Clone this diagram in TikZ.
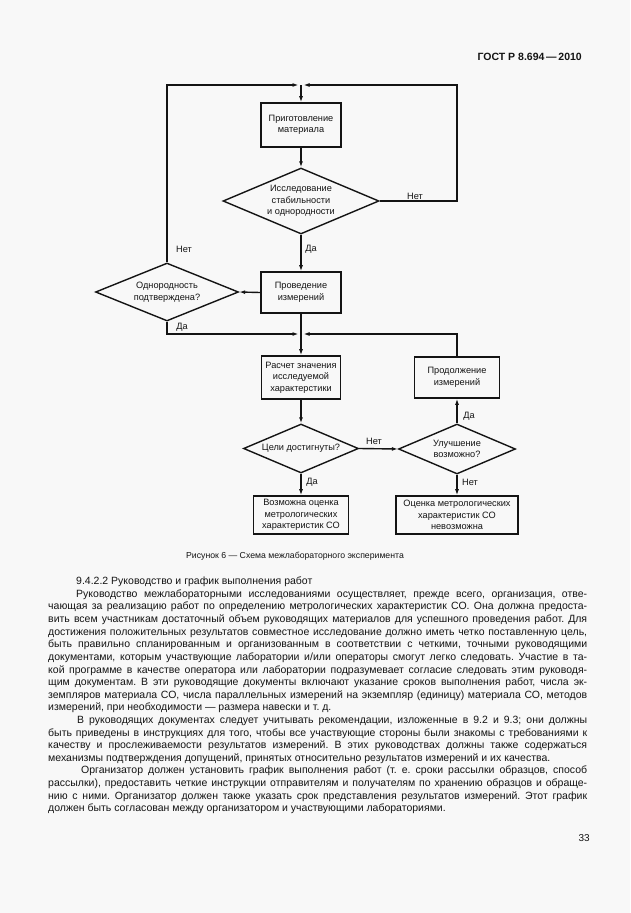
\documentclass[tikz,border=0pt]{standalone}
\usepackage{fontspec}
\setmainfont{Liberation Sans}
\usetikzlibrary{shapes.geometric,arrows.meta}
\definecolor{pagebg}{RGB}{248,248,248}
\definecolor{ink}{RGB}{20,20,20}
\newcommand{\jl}[2][539pt]{\makebox[#1][s]{#2}}
\frenchspacing
\begin{document}
\begin{tikzpicture}[x=1pt,y=-1pt,
  every node/.style={text=ink},
  diagfont/.style={font=\fontsize{9.2}{11.5}\selectfont},
  box/.style={draw=ink, line width=1.6pt, align=center, inner sep=0pt, diagfont},
  dia/.style={draw=ink, diamond, line width=1.4pt, align=center, inner sep=0pt, diagfont},
  conn/.style={draw=ink, line width=1.4pt},
  arr/.style={conn, -{Latex[length=6pt,width=4pt]}},
  lbl/.style={diagfont, inner sep=0pt},
  body/.style={anchor=base west, inner sep=0pt, font=\fontsize{10.5}{12.6}\selectfont},
]
\fill[pagebg] (0,0) rectangle (630,913);
\useasboundingbox (0,0) rectangle (630,913);

% header
\node[anchor=base east, inner sep=0pt, font=\bfseries\fontsize{10.5}{12}\selectfont] (hdr) at (582,60) {ГОСТ Р 8.694\,—\,2010};

% flowchart nodes
\node[box, minimum width=80pt, minimum height=44pt] (b1) at (301,125) {Приготовление\\материала};
\node[dia, minimum width=156pt, minimum height=66pt, aspect=2.36] (d1) at (301,201) {Исследование\\стабильности\\и однородности};
\node[box, minimum width=80pt, minimum height=41pt] (b2) at (301,292.5) {Проведение\\измерений};
\node[dia, minimum width=143pt, minimum height=58pt, aspect=2.47] (d2) at (167,292) {Однородность\\подтверждена?};
\node[box, minimum width=79pt, minimum height=43pt] (b3) at (301,377.5) {Расчет значения\\исследуемой\\характерстики};
\node[box, minimum width=85pt, minimum height=41pt] (b4) at (457,377.5) {Продолжение\\измерений};
\node[dia, minimum width=115pt, minimum height=49pt, aspect=2.35] (d3) at (301,448.5) {Цели достигнуты?};
\node[dia, minimum width=117pt, minimum height=50pt, aspect=2.34] (d4) at (457,449) {Улучшение\\возможно?};
\node[box, minimum width=95pt, minimum height=38pt] (b5) at (301,515) {Возможна оценка\\метрологических\\характеристик СО};
\node[box, minimum width=122pt, minimum height=38pt] (b6) at (457,515) {Оценка метрологических\\характеристик СО\\невозможна};

\coordinate (m1) at (301,85);
\coordinate (m2) at (301,334);
\coordinate (tr) at (457,85);

% connectors
\draw[arr, shorten >=2.5pt] (d2.north) |- (m1);
\draw[arr, shorten >=2.5pt] (d1.east) -| (tr) -- (m1);
\draw[arr] (m1) -- (b1.north);
\draw[arr] (b1.south) -- (d1.north);
\draw[arr] (d1.south) -- (b2.north);
\draw[arr] (b2.west) -- (d2.east);
\draw[arr, shorten >=2.5pt] (d2.south) |- (m2);
\draw[conn] (b2.south) -- (m2);
\draw[arr, shorten >=2.5pt] (b4.north) |- (m2);
\draw[arr] (m2) -- (b3.north);
\draw[arr] (b3.south) -- (d3.north);
\draw[arr] (d3.east) -- (d4.west);
\draw[arr] (d3.south) -- (b5.north);
\draw[arr] (d4.north) -- (b4.south);
\draw[arr] (d4.south) -- (b6.north);

% connector labels
\node[lbl] (l1) at (415,196) {Нет};
\node[lbl] (l2) at (311,249) {Да};
\node[lbl] (l3) at (184,249) {Нет};
\node[lbl] (l4) at (182,327) {Да};
\node[lbl] (l5) at (374,441) {Нет};
\node[lbl] (l6) at (469,416) {Да};
\node[lbl] (l7) at (470,482) {Нет};
\node[lbl] (l8) at (312,482) {Да};

% caption
\node[anchor=base, inner sep=0pt, font=\fontsize{8.7}{10}\selectfont] (cap) at (295,558) {Рисунок 6 — Схема межлабораторного эксперимента};

% body text
\node[body] (t0) at (76,584.7) {9.4.2.2 Руководство и график выполнения работ};
\node[body] (t1) at (76,597.3) {\jl[511pt]{Руководство межлабораторными исследованиями осуществляет, прежде всего, организация, отве-}};
\node[body] (t2) at (48,609.9) {\jl{чающая за реализацию работ по определению метрологических характеристик СО. Она должна предоста-}};
\node[body] (t3) at (48,622.5) {\jl{вить всем участникам достаточный объем руководящих материалов для успешного проведения работ. Для}};
\node[body] (t4) at (48,635.1) {\jl{достижения положительных результатов совместное исследование должно иметь четко поставленную цель,}};
\node[body] (t5) at (48,647.8) {\jl{быть правильно спланированным и организованным в соответствии с четкими, точными руководящими}};
\node[body] (t6) at (48,660.4) {\jl{документами, которым участвующие лаборатории и/или операторы смогут легко следовать. Участие в та-}};
\node[body] (t7) at (48,673.0) {\jl{кой программе в качестве оператора или лаборатории подразумевает согласие следовать этим руководя-}};
\node[body] (t8) at (48,685.6) {\jl{щим документам. В эти руководящие документы включают указание сроков выполнения работ, числа эк-}};
\node[body] (t9) at (48,698.2) {\jl{земпляров материала СО, числа параллельных измерений на экземпляр (единицу) материала СО, методов}};
\node[body] (t10) at (48,710.8) {измерений, при необходимости — размера навески и т. д.};
\node[body] (t11) at (77,723.4) {\jl[510pt]{В руководящих документах следует учитывать рекомендации, изложенные в 9.2 и 9.3; они должны}};
\node[body] (t12) at (48,736.0) {\jl{быть приведены в инструкциях для того, чтобы все участвующие стороны были знакомы с требованиями к}};
\node[body] (t13) at (48,748.6) {\jl{качеству и прослеживаемости результатов измерений. В этих руководствах должны также содержаться}};
\node[body] (t14) at (48,761.2) {механизмы подтверждения допущений, принятых относительно результатов измерений и их качества.};
\node[body] (t15) at (81,773.9) {\jl[506pt]{Организатор должен установить график выполнения работ (т. е. сроки рассылки образцов, способ}};
\node[body] (t16) at (48,786.5) {\jl{рассылки), предоставить четкие инструкции отправителям и получателям по хранению образцов и обраще-}};
\node[body] (t17) at (48,799.1) {\jl{нию с ними. Организатор должен также указать срок представления результатов измерений. Этот график}};
\node[body] (t18) at (48,811.7) {должен быть согласован между организатором и участвующими лабораториями.};

% page number
\node[anchor=base east, inner sep=0pt, font=\fontsize{10}{12}\selectfont] (pg) at (590,841) {33};
\end{tikzpicture}
\end{document}
